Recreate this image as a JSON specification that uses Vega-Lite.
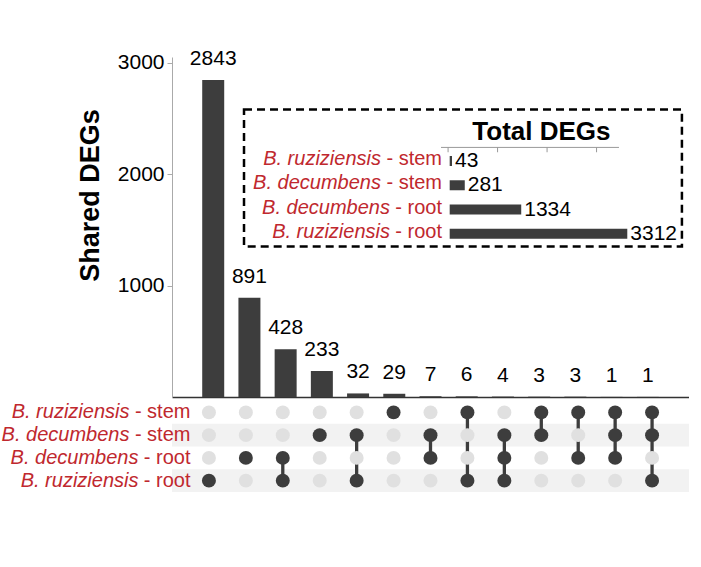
{
  "$schema": "https://vega.github.io/schema/vega-lite/v6.json",
  "padding": {"left": 1, "top": 48, "right": 0, "bottom": 0},
  "config": {"view": {"stroke": null}, "font": "Liberation Sans"},
  "datasets": {
    "combos": [
      {"col": 1, "count": 2843, "rs": 0, "ds": 0, "dr": 0, "rr": 1},
      {"col": 2, "count": 891, "rs": 0, "ds": 0, "dr": 1, "rr": 0},
      {"col": 3, "count": 428, "rs": 0, "ds": 0, "dr": 1, "rr": 1},
      {"col": 4, "count": 233, "rs": 0, "ds": 1, "dr": 0, "rr": 0},
      {"col": 5, "count": 32, "rs": 0, "ds": 1, "dr": 0, "rr": 1},
      {"col": 6, "count": 29, "rs": 1, "ds": 0, "dr": 0, "rr": 0},
      {"col": 7, "count": 7, "rs": 0, "ds": 1, "dr": 1, "rr": 0},
      {"col": 8, "count": 6, "rs": 1, "ds": 0, "dr": 0, "rr": 1},
      {"col": 9, "count": 4, "rs": 0, "ds": 1, "dr": 1, "rr": 1},
      {"col": 10, "count": 3, "rs": 1, "ds": 1, "dr": 0, "rr": 0},
      {"col": 11, "count": 3, "rs": 1, "ds": 0, "dr": 1, "rr": 0},
      {"col": 12, "count": 1, "rs": 1, "ds": 1, "dr": 1, "rr": 0},
      {"col": 13, "count": 1, "rs": 1, "ds": 1, "dr": 0, "rr": 1}
    ],
    "links": [
      {"col": 3, "from": "dr", "to": "rr"},
      {"col": 5, "from": "ds", "to": "rr"},
      {"col": 7, "from": "ds", "to": "dr"},
      {"col": 8, "from": "rs", "to": "rr"},
      {"col": 9, "from": "ds", "to": "rr"},
      {"col": 10, "from": "rs", "to": "ds"},
      {"col": 11, "from": "rs", "to": "dr"},
      {"col": 12, "from": "rs", "to": "dr"},
      {"col": 13, "from": "rs", "to": "rr"}
    ],
    "sets": [
      {"set": "rs", "species": "B. ruziziensis", "tissue": "stem", "suffix": "- stem", "total": 43, "pos": 1},
      {"set": "ds", "species": "B. decumbens", "tissue": "stem", "suffix": "- stem", "total": 281, "pos": 2},
      {"set": "dr", "species": "B. decumbens", "tissue": "root", "suffix": "- root", "total": 1334, "pos": 3},
      {"set": "rr", "species": "B. ruziziensis", "tissue": "root", "suffix": "- root", "total": 3312, "pos": 4}
    ],
    "insetTicks": [{"tick": -30}, {"tick": 893}, {"tick": 1816}, {"tick": 2739}],
    "insetTitle": [{"title": "Total DEGs"}]
  },
  "bounds": "flush",
  "spacing": 4,
  "vconcat": [
    {
      "width": 517,
      "height": 340,
      "layer": [
        {
          "data": {"name": "combos"},
          "layer": [
            {
              "mark": {"type": "bar", "size": 22, "color": "#3d3d3d"},
              "encoding": {
                "x": {"field": "col", "type": "quantitative", "scale": {"domain": [0, 14], "nice": false, "zero": false},
                      "axis": {"labels": false, "ticks": false, "title": null, "grid": false, "domainColor": "#333333", "domainWidth": 1.5}},
                "y": {"field": "count", "type": "quantitative", "scale": {"domain": [0, 3050], "nice": false},
                      "axis": {"values": [1000, 2000, 3000], "format": "d", "title": "Shared DEGs", "grid": false,
                               "domainColor": "#aaaaaa", "tickColor": "#aaaaaa", "tickSize": 5, "labelPadding": 3,
                               "labelFontSize": 21, "labelColor": "#000000", "titleFontSize": 27, "titleFontWeight": "bold",
                               "titleColor": "#000000", "titlePadding": 13, "titleY": 138}}
              }
            },
            {
              "mark": {"type": "text", "dy": -15, "fontSize": 21, "baseline": "alphabetic", "color": "#000000"},
              "encoding": {
                "x": {"field": "col", "type": "quantitative"},
                "y": {"field": "count", "type": "quantitative"},
                "text": {"field": "count", "type": "quantitative"}
              }
            }
          ]
        },
        {
          "data": {"name": "sets"},
          "layer": [
            {
              "mark": {"type": "bar", "orient": "horizontal", "size": 10, "color": "#3d3d3d"},
              "encoding": {
                "x": {"field": "total", "type": "quantitative", "scale": {"domain": [-5179, 4463], "nice": false, "zero": false}, "axis": null},
                "x2": {"datum": 0},
                "y": {"field": "pos", "type": "quantitative", "scale": {"domain": [-3.08, 10.52], "reverse": true, "nice": false, "zero": false}, "axis": null}
              }
            },
            {
              "mark": {"type": "text", "align": "left", "dx": 3, "baseline": "middle", "fontSize": 21, "color": "#000000"},
              "encoding": {
                "x": {"field": "total", "type": "quantitative"},
                "y": {"field": "pos", "type": "quantitative"},
                "text": {"field": "total", "type": "quantitative"}
              }
            },
            {
              "transform": [{"filter": {"field": "tissue", "equal": "stem"}}],
              "mark": {"type": "text", "align": "right", "dx": -61, "dy": -2, "baseline": "middle", "fontSize": 20, "fontStyle": "italic", "color": "#c0282e"},
              "encoding": {
                "x": {"datum": -144},
                "y": {"field": "pos", "type": "quantitative"},
                "text": {"field": "species"}
              }
            },
            {
              "transform": [{"filter": {"field": "tissue", "equal": "root"}}],
              "mark": {"type": "text", "align": "right", "dx": -52, "dy": -2, "baseline": "middle", "fontSize": 20, "fontStyle": "italic", "color": "#c0282e"},
              "encoding": {
                "x": {"datum": -144},
                "y": {"field": "pos", "type": "quantitative"},
                "text": {"field": "species"}
              }
            },
            {
              "mark": {"type": "text", "align": "right", "dy": -2, "baseline": "middle", "fontSize": 20, "color": "#c0282e"},
              "encoding": {
                "x": {"datum": -144},
                "y": {"field": "pos", "type": "quantitative"},
                "text": {"field": "suffix"}
              }
            },
            {
              "data": {"name": "insetTitle"},
              "mark": {"type": "text", "align": "center", "baseline": "alphabetic", "fontSize": 26, "fontWeight": "bold", "color": "#000000"},
              "encoding": {
                "x": {"datum": 1710},
                "y": {"datum": 0.12},
                "text": {"field": "title"}
              }
            },
            {
              "data": {"name": "insetTitle"},
              "mark": {"type": "rule", "color": "#999999", "strokeWidth": 1},
              "encoding": {
                "x": {"datum": -162},
                "x2": {"datum": 3157},
                "y": {"datum": 0.44}
              }
            },
            {
              "data": {"name": "insetTicks"},
              "mark": {"type": "rule", "color": "#999999", "strokeWidth": 1},
              "encoding": {
                "x": {"field": "tick", "type": "quantitative"},
                "y": {"datum": 0.44},
                "y2": {"datum": 0.64}
              }
            },
            {
              "data": {"name": "insetTitle"},
              "mark": {"type": "rect", "fill": null, "fillOpacity": 0, "stroke": "#000000", "strokeWidth": 2.5, "strokeDash": [8, 5]},
              "encoding": {
                "x": {"datum": -3836},
                "x2": {"datum": 4331},
                "y": {"datum": -1.12},
                "y2": {"datum": 4.52}
              }
            }
          ]
        }
      ],
      "resolve": {"scale": {"x": "independent", "y": "independent"}, "axis": {"x": "independent", "y": "independent"}}
    },
    {
      "width": 517,
      "height": 91,
      "layer": [
        {
          "data": {"name": "sets"},
          "transform": [{"filter": {"field": "set", "oneOf": ["ds", "rr"]}}],
          "mark": {"type": "rect", "color": "#f2f2f2"},
          "encoding": {
            "y": {"field": "set", "type": "nominal", "scale": {"domain": ["rs", "ds", "dr", "rr"], "paddingInner": 0, "paddingOuter": 0}, "axis": null},
            "x": {"datum": 0, "type": "quantitative", "scale": {"domain": [0, 14], "nice": false, "zero": false}, "axis": null},
            "x2": {"datum": 14}
          }
        },
        {
          "data": {"name": "links"},
          "mark": {"type": "rule", "color": "#3d3d3d", "strokeWidth": 3.3},
          "encoding": {
            "x": {"field": "col", "type": "quantitative"},
            "y": {"field": "from", "type": "nominal"},
            "y2": {"field": "to"}
          }
        },
        {
          "data": {"name": "combos"},
          "transform": [{"fold": ["rs", "ds", "dr", "rr"], "as": ["set", "member"]}],
          "mark": {"type": "circle", "size": 195, "opacity": 1},
          "encoding": {
            "x": {"field": "col", "type": "quantitative"},
            "y": {"field": "set", "type": "nominal"},
            "color": {"field": "member", "type": "nominal", "scale": {"domain": [0, 1], "range": ["#e0e0e0", "#3d3d3d"]}, "legend": null}
          }
        },
        {
          "data": {"name": "sets"},
          "transform": [{"filter": {"field": "tissue", "equal": "stem"}}],
          "mark": {"type": "text", "align": "right", "dx": -61, "baseline": "middle", "fontSize": 20, "fontStyle": "italic", "color": "#c0282e"},
          "encoding": {
            "x": {"datum": 0.5},
            "y": {"field": "set", "type": "nominal"},
            "text": {"field": "species"}
          }
        },
        {
          "data": {"name": "sets"},
          "transform": [{"filter": {"field": "tissue", "equal": "root"}}],
          "mark": {"type": "text", "align": "right", "dx": -52, "baseline": "middle", "fontSize": 20, "fontStyle": "italic", "color": "#c0282e"},
          "encoding": {
            "x": {"datum": 0.5},
            "y": {"field": "set", "type": "nominal"},
            "text": {"field": "species"}
          }
        },
        {
          "data": {"name": "sets"},
          "mark": {"type": "text", "align": "right", "baseline": "middle", "fontSize": 20, "color": "#c0282e"},
          "encoding": {
            "x": {"datum": 0.5},
            "y": {"field": "set", "type": "nominal"},
            "text": {"field": "suffix"}
          }
        }
      ]
    }
  ]
}
